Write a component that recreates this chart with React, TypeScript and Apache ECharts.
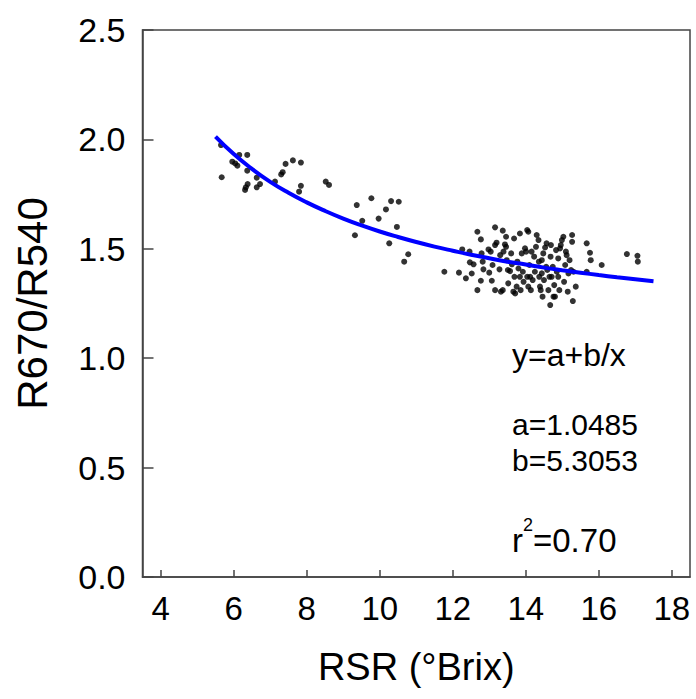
import React, { useEffect, useRef } from "react";
import * as echarts from "echarts";

// X tick labels (°Brix)
const xTicks = [4, 6, 8, 10, 12, 14, 16, 18];
const yTicks = [0, 0.5, 1.0, 1.5, 2.0, 2.5];

// Scatter points: [RSR (°Brix), R670/R540]
const pointsLow: number[][] = [
  [5.65, 1.974], [6.15, 1.929], [6.37, 1.929], [5.96, 1.898], [6.04, 1.89], [6.1, 1.88],
  [6.37, 1.857], [5.67, 1.827], [6.63, 1.825], [6.38, 1.796], [6.33, 1.781], [6.31, 1.769],
  [6.72, 1.796], [6.63, 1.781], [7.13, 1.807], [7.3, 1.84], [7.34, 1.85], [7.42, 1.888],
  [7.62, 1.904], [7.84, 1.894], [7.84, 1.788], [7.79, 1.761], [8.52, 1.807], [8.61, 1.792],
  [9.37, 1.7], [9.77, 1.731], [10.31, 1.718], [10.52, 1.715], [10.17, 1.68], [9.97, 1.638],
  [9.52, 1.628], [10.47, 1.6], [9.32, 1.562], [10.26, 1.525], [10.78, 1.475], [10.67, 1.441],
  [11.77, 1.395],
];

const pointsHigh: number[][] = [
  [12.17, 1.391], [12.26, 1.497], [12.36, 1.365], [12.46, 1.487], [12.47, 1.438], [12.52, 1.387],
  [12.57, 1.429], [12.675, 1.578], [12.675, 1.311], [12.77, 1.543], [12.77, 1.354], [12.79, 1.479],
  [12.82, 1.441], [12.84, 1.406], [12.98, 1.497], [13.0, 1.391], [13.04, 1.487], [13.07, 1.354],
  [13.09, 1.426], [13.16, 1.598], [13.16, 1.311], [13.16, 1.517], [13.2, 1.528], [13.28, 1.406],
  [13.3, 1.471], [13.32, 1.304], [13.37, 1.583], [13.37, 1.311], [13.39, 1.487], [13.43, 1.52],
  [13.46, 1.555], [13.46, 1.509], [13.48, 1.448], [13.51, 1.403], [13.52, 1.342], [13.57, 1.398],
  [13.6, 1.479], [13.62, 1.429], [13.66, 1.304], [13.68, 1.547], [13.69, 1.372], [13.71, 1.296],
  [13.75, 1.327], [13.77, 1.441], [13.8, 1.41], [13.84, 1.57], [13.84, 1.372], [13.86, 1.311],
  [13.89, 1.479], [13.92, 1.395], [13.94, 1.349], [13.98, 1.502], [14.01, 1.487], [14.04, 1.586],
  [14.07, 1.578], [14.04, 1.372], [14.07, 1.327], [14.1, 1.426], [14.12, 1.372], [14.14, 1.311],
  [14.16, 1.487], [14.19, 1.357], [14.23, 1.464], [14.25, 1.395], [14.28, 1.509], [14.3, 1.563],
  [14.35, 1.54], [14.36, 1.441], [14.37, 1.372], [14.39, 1.327], [14.41, 1.311], [14.44, 1.448],
  [14.44, 1.388], [14.46, 1.281], [14.48, 1.479], [14.5, 1.357], [14.53, 1.506], [14.56, 1.418],
  [14.57, 1.525], [14.59, 1.403], [14.62, 1.311], [14.65, 1.372], [14.67, 1.243], [14.68, 1.464],
  [14.69, 1.517], [14.71, 1.372], [14.74, 1.418], [14.76, 1.281], [14.78, 1.334], [14.8, 1.281],
  [14.83, 1.494], [14.85, 1.395], [14.89, 1.372], [14.89, 1.456], [14.92, 1.311], [14.94, 1.502],
  [14.96, 1.517], [14.99, 1.54], [15.03, 1.555], [15.05, 1.349], [15.08, 1.426], [15.1, 1.487],
  [15.12, 1.471], [15.15, 1.304], [15.17, 1.387], [15.2, 1.448], [15.24, 1.403], [15.27, 1.563],
  [15.27, 1.532], [15.29, 1.261], [15.31, 1.395], [15.37, 1.327], [15.67, 1.525], [15.67, 1.395],
  [15.76, 1.482], [15.78, 1.448], [16.08, 1.426], [16.77, 1.476], [17.06, 1.468], [17.07, 1.441],
];

// Fitted curve y = a + b/x, sampled values
const curveX = [5.5, 6, 6.5, 7, 7.5, 8, 8.5, 9, 9.5, 10, 10.5, 11, 11.5, 12, 12.5, 13, 13.5, 14, 14.5, 15, 15.5, 16, 16.5, 17, 17.5];
const curveY = [2.013, 1.933, 1.865, 1.806, 1.756, 1.712, 1.673, 1.638, 1.607, 1.579, 1.554, 1.531, 1.51, 1.491, 1.473, 1.457, 1.441, 1.428, 1.414, 1.402, 1.391, 1.38, 1.37, 1.361, 1.352];

const annotations = ["y=a+b/x", "a=1.0485", "b=5.3053"];

const FONT = "Liberation Sans, Arial, sans-serif";
const AXIS_COLOR = "#444444";

export default function App() {
  const ref = useRef<HTMLDivElement>(null);

  useEffect(() => {
    if (!ref.current) return;
    const chart = echarts.init(ref.current, undefined, { renderer: "svg" });
    const ts = { fontFamily: FONT, fontSize: 32, fill: "#000", align: "left", verticalAlign: "middle" };
    chart.setOption({
      animation: false,
      backgroundColor: "#ffffff",
      textStyle: { fontFamily: FONT },
      grid: {
        left: 142.5,
        right: 6,
        top: 30,
        bottom: 122,
        show: true,
        borderColor: AXIS_COLOR,
        borderWidth: 1.5,
        backgroundColor: "transparent",
      },
      xAxis: {
        type: "value",
        min: 3.5,
        max: 18.5,
        name: "RSR (°Brix)",
        nameLocation: "middle",
        nameGap: 71,
        nameTextStyle: { fontFamily: FONT, fontSize: 38, color: "#000" },
        splitLine: { show: false },
        axisLine: { show: true, lineStyle: { color: AXIS_COLOR, width: 1.5 } },
        axisTick: { show: true, inside: true, length: 7, customValues: xTicks, lineStyle: { color: AXIS_COLOR, width: 1.5 } },
        axisLabel: { customValues: xTicks, fontFamily: FONT, fontSize: 33, color: "#000", margin: 15 },
      },
      yAxis: {
        type: "value",
        min: 0,
        max: 2.5,
        interval: 0.5,
        name: "R670/R540",
        nameLocation: "middle",
        nameGap: 89,
        nameTextStyle: { fontFamily: FONT, fontSize: 42, color: "#000" },
        splitLine: { show: false },
        axisLine: { show: true, lineStyle: { color: AXIS_COLOR, width: 1.5 } },
        axisTick: { show: true, inside: true, length: 11, customValues: yTicks, lineStyle: { color: AXIS_COLOR, width: 1.5 } },
        axisLabel: {
          customValues: yTicks,
          fontFamily: FONT,
          fontSize: 34,
          color: "#000",
          margin: 17,
          formatter: (v: number) => v.toFixed(1),
        },
      },
      series: [
        {
          type: "scatter",
          data: pointsLow,
          symbol: "circle",
          symbolSize: 6,
          itemStyle: { color: "#000" },
        },
        {
          type: "scatter",
          data: pointsHigh,
          symbol: "circle",
          symbolSize: 6,
          itemStyle: { color: "#000" },
        },
        {
          type: "line",
          data: curveX.map((x, i) => [x, curveY[i]]),
          smooth: true,
          showSymbol: false,
          symbol: "none",
          lineStyle: { color: "#0000ff", width: 4 },
          z: 3,
        },
      ],
      graphic: [
        { type: "text", x: 512, y: 355, style: { ...ts, text: annotations[0] } },
        { type: "text", x: 512, y: 424, style: { ...ts, fontSize: 30, text: annotations[1] } },
        { type: "text", x: 512, y: 460, style: { ...ts, fontSize: 30, text: annotations[2] } },
        { type: "text", x: 512, y: 540, style: { ...ts, fontSize: 33, text: "r" } },
        { type: "text", x: 523, y: 525, style: { ...ts, fontSize: 18, text: "2" } },
        { type: "text", x: 533, y: 540, style: { ...ts, fontSize: 33, text: "=0.70" } },
      ],
    });
    return () => chart.dispose();
  }, []);

  return <div ref={ref} style={{ position: "absolute", left: 0, top: 0, width: 696, height: 699 }} />;
}
